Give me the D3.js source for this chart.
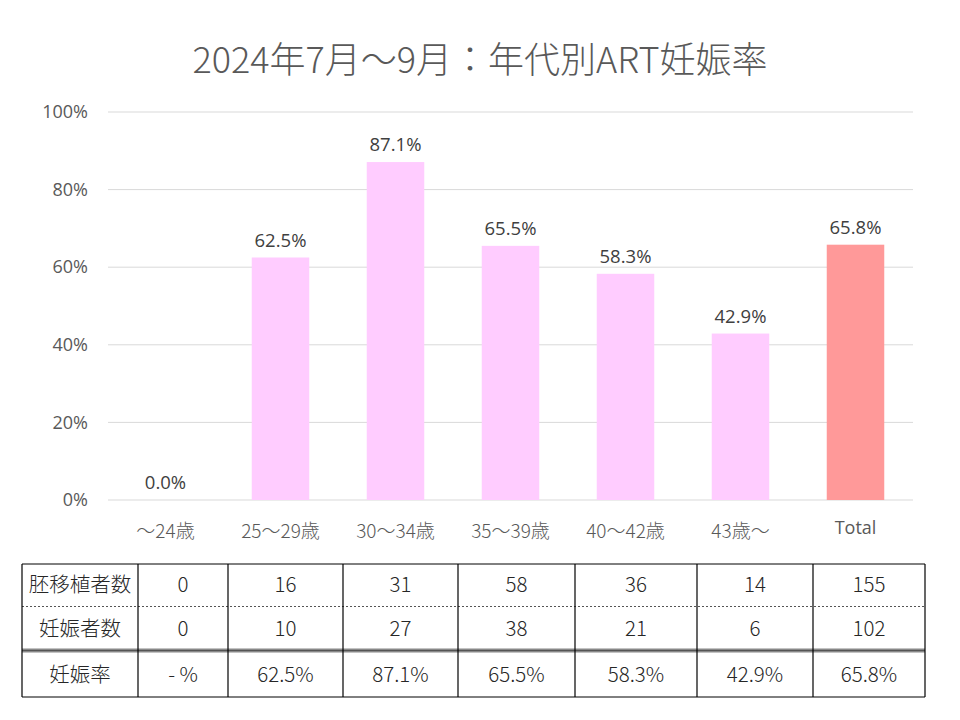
<!DOCTYPE html>
<html><head><meta charset="utf-8">
<script src="https://cdn.jsdelivr.net/npm/d3@7"></script>
<style>body{margin:0;background:#fff}</style>
</head><body>
<svg id="c" width="960" height="720"></svg>
<script>
const title = "2024年7月～9月：年代別ART妊娠率";
const categories = ["～24歳","25～29歳","30～34歳","35～39歳","40～42歳","43歳～","Total"];
const rates = [0.0, 62.5, 87.1, 65.5, 58.3, 42.9, 65.8];
const transfers = [0, 16, 31, 58, 36, 14, 155];
const pregnancies = [0, 10, 27, 38, 21, 6, 102];
const rateLabels = ["- %", "62.5%", "87.1%", "65.5%", "58.3%", "42.9%", "65.8%"];
const rowHeaders = ["胚移植者数", "妊娠者数", "妊娠率"];
const yTicks = [0, 20, 40, 60, 80, 100];

const svg = d3.select("#c");
const jp = "'Noto Sans CJK JP', sans-serif";
const lat = "'Open Sans', 'Noto Sans', sans-serif";

svg.append("text").attr("x", 480).attr("y", 73).attr("text-anchor", "middle")
  .attr("font-family", jp).attr("font-size", 36).attr("font-weight", 300).attr("fill", "#595959").text(title);

const x = d3.scaleBand().domain(categories).range([108, 913]).paddingInner(0.5).paddingOuter(0.25);
const y = d3.scaleLinear().domain([0, 100]).range([500, 112]);

const yAxis = d3.axisLeft(y).tickValues(yTicks).tickFormat(d => d + "%").tickSize(0).tickPadding(20);
const gy = svg.append("g").attr("transform", "translate(108,0)").call(yAxis);
gy.select(".domain").remove();
gy.selectAll("text").attr("font-family", lat).attr("font-size", 18).attr("font-weight", 400).attr("fill", "#595959");
svg.append("g").selectAll("line").data(yTicks).join("line")
  .attr("x1", 108).attr("x2", 913).attr("y1", d => y(d)).attr("y2", d => y(d))
  .attr("stroke", "#d9d9d9").attr("stroke-width", 1);

svg.append("g").selectAll("rect").data(rates).join("rect")
  .attr("x", (d, i) => x(categories[i])).attr("width", x.bandwidth())
  .attr("y", d => y(d)).attr("height", d => y(0) - y(d))
  .attr("fill", (d, i) => categories[i] === "Total" ? "#FF9999" : "#FFCCFF");

svg.append("g").selectAll("text").data(rates).join("text")
  .attr("x", (d, i) => x(categories[i]) + x.bandwidth() / 2)
  .attr("y", d => y(d) - 11).attr("text-anchor", "middle")
  .attr("font-family", lat).attr("font-size", 18.5).attr("font-weight", 400).attr("fill", "#404040")
  .text(d => d.toFixed(1) + "%");

const xAxis = d3.axisBottom(x).tickSize(0).tickPadding(0);
const gx = svg.append("g").attr("transform", "translate(0,500)").call(xAxis);
gx.select(".domain").remove();
gx.selectAll("text").attr("font-size", d => d === "Total" ? 18 : 19).attr("font-weight", d => d === "Total" ? 400 : 300).attr("fill", "#595959")
  .attr("dy", null).attr("y", d => d === "Total" ? 34 : 38)
  .attr("font-family", d => d === "Total" ? lat : jp);

// table
const colEdges = [22, 138, 228, 343, 458, 575, 697, 813, 925];
const rowEdges = [564, 606, 651, 697];
const tbl = svg.append("g");
const rows = [transfers.map(String), pregnancies.map(String), rateLabels];
rows.forEach((r, ri) => {
  const cy = (rowEdges[ri] + rowEdges[ri + 1]) / 2 + (ri === 2 ? 1 : 0);
  const cells = [rowHeaders[ri]].concat(r);
  tbl.append("g").selectAll("text").data(cells).join("text")
    .attr("x", (d, i) => (colEdges[i] + colEdges[i + 1]) / 2)
    .attr("y", cy).attr("dy", "0.36em").attr("text-anchor", "middle")
    .attr("font-family", jp).attr("font-size", 20.5).attr("font-weight", 300).attr("fill", "#262626")
    .text(d => d);
});
tbl.append("line").attr("x1", 22).attr("x2", 925).attr("y1", 564).attr("y2", 564).attr("stroke", "#000").attr("stroke-width", 1);
tbl.append("line").attr("x1", 22).attr("x2", 925).attr("y1", 606.5).attr("y2", 606.5).attr("stroke", "#555").attr("stroke-width", 1).attr("stroke-dasharray", "2,2");
tbl.append("line").attr("x1", 22).attr("x2", 925).attr("y1", 650.5).attr("y2", 650.5).attr("stroke", "#888").attr("stroke-width", 4);
tbl.append("line").attr("x1", 22).attr("x2", 925).attr("y1", 650.5).attr("y2", 650.5).attr("stroke", "#555").attr("stroke-width", 1);
tbl.append("line").attr("x1", 22).attr("x2", 925).attr("y1", 697).attr("y2", 697).attr("stroke", "#000").attr("stroke-width", 1);
tbl.selectAll("line.v").data(colEdges).join("line").attr("class", "v")
  .attr("x1", d => d).attr("x2", d => d).attr("y1", 564).attr("y2", 697)
  .attr("stroke", "#000").attr("stroke-width", 1.2);
</script>
</body></html>
